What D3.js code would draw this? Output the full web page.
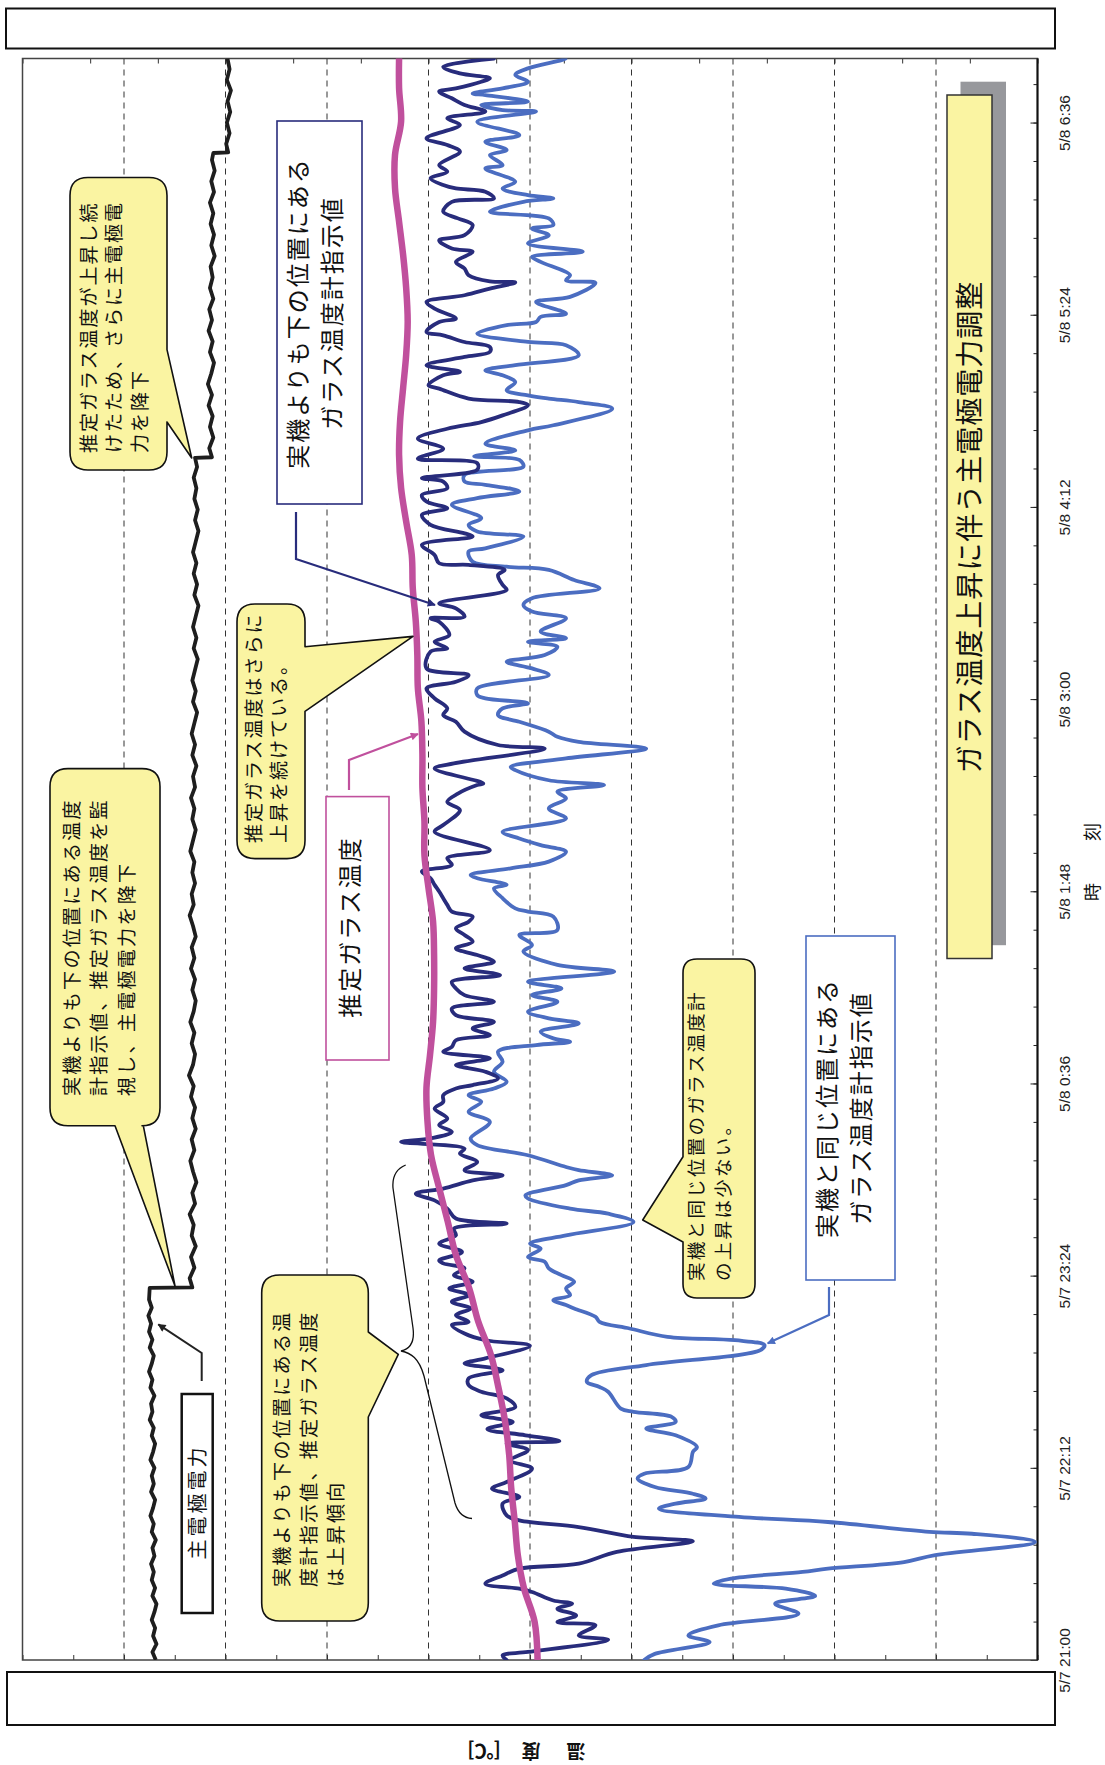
<!DOCTYPE html>
<html>
<head>
<meta charset="utf-8">
<script src="https://cdn.jsdelivr.net/npm/d3@7"></script>
<style>
body { margin: 0; background: #fff; }
svg { display: block; font-family: "Noto Sans CJK JP", sans-serif; }
</style>
</head>
<body>
<div class="chart-container"></div>
<script>
// ---- data (time = minutes after 5/7 21:00) ----
const tickLabels = ['5/7 21:00','5/7 22:12','5/7 23:24','5/8 0:36','5/8 1:48','5/8 3:00','5/8 4:12','5/8 5:24','5/8 6:36'];
const majorMinutes = [0, 72, 144, 216, 288, 360, 432, 504, 576];
const seriesNames = ['主電極電力', '推定ガラス温度', '実機よりも下の位置にあるガラス温度計指示値', '実機と同じ位置にあるガラス温度計指示値'];

// 主電極電力 (top axis, relative units)
const powerPts = [[0,130.3],[3,130.8],[6,130.2],[9,130.7],[12,130.4],[15,130.9],[18,130.5],[21,130.2],[24,130.8],[27,130.4],[30,130.9],[33,130.6],[36,131.0],[39,130.5],[42,130.8],[45,130.3],[48,130.9],[51,130.6],[54,131.1],[57,130.7],[60,130.4],[63,131.0],[66,130.6],[69,130.9],[72,130.5],[75,131.1],[78,130.7],[81,130.4],[84,130.9],[87,130.6],[90,131.2],[93,130.8],[96,131.0],[99,130.5],[102,131.1],[105,130.8],[108,131.3],[111,130.9],[114,130.6],[117,131.2],[120,130.8],[123,131.3],[126,131.0],[129,131.4],[132,130.9],[135,131.3],[139.4,131.2],
  [139.6,124.9],[143,125.3],[147,124.6],[151,125.1],[155,124.4],[159,125.0],[163,124.7],[167,125.3],[171,124.5],[175,124.9],[179,124.3],[183,124.8],[187,125.2],[191,124.6],[195,125.0],[199,124.4],[203,124.9],[207,124.5],[211,125.1],[215,124.7],[219,125.4],[223,124.8],[227,124.5],[231,125.0],[235,124.6],[239,125.2],[243,124.7],[247,124.4],[251,124.9],[255,124.5],[259,125.1],[263,124.6],[267,125.0],[271,124.4],[275,124.8],[279,125.3],[283,124.7],[287,125.0],[291,124.5],[295,124.9],[299,124.6],[303,125.2],[307,124.8],[311,124.4],[315,124.9],[319,124.6],[323,125.1],[327,124.5],[331,124.8],[335,124.3],[339,124.9],[343,124.5],[347,125.0],[351,124.6],[355,124.2],[359,124.8],[363,124.4],[367,124.9],[371,124.5],[375,124.1],[379,124.7],[383,124.3],[387,124.8],[391,124.4],[395,124.0],[399,124.6],[403,124.2],[407,124.7],[411,124.3],[415,124.8],[419,124.4],[423,124.0],[427,124.5],[431,124.1],[435,124.6],[439,124.3],[443,124.7],[447,124.2],[450.4,124.5],
  [450.6,122.0],[454,122.4],[458,121.8],[462,122.3],[466,121.9],[470,122.5],[474,122.0],[478,122.6],[482,122.1],[486,121.7],[490,122.3],[494,121.9],[498,122.5],[502,122.0],[506,122.4],[510,121.8],[514,122.3],[518,121.9],[522,122.2],[526,121.6],[530,122.1],[534,121.7],[538,122.2],[542,121.8],[546,122.3],[550,121.7],[554,122.1],[558,121.6],[562,122.0],[564.6,121.8],
  [564.8,119.6],[568,119.9],[572,119.4],[576,119.8],[580,119.3],[584,119.7],[588,119.2],[592,119.8],[596,119.4],[600,119.7]];

// 推定ガラス温度 (bottom axis, relative units)
const estPts = [[0,98.5],[14.4,99.1],[27.0,101.2],[39.3,102.4],[51.8,103.0],[64.4,103.7],[76.8,104.1],[89.3,104.9],[101.9,106.2],[114.3,107.7],[126.8,110.2],[139.4,112.0],[151.7,114.6],[164.2,116.2],[176.8,117.9],[189.2,119.5],[201.7,120.2],[214.3,120.4],[226.7,119.7],[239.1,119.1],[251.8,118.9],[264.1,118.9],[276.6,119.1],[289.2,120.0],[301.6,120.8],[314.1,120.8],[326.7,121.2],[339.1,121.2],[351.6,121.4],[364.2,122.1],[376.5,122.2],[389.0,122.5],[401.6,123.1],[414.0,123.3],[426.5,124.4],[439.1,125.4],[451.5,125.8],[464.0,125.6],[476.6,125.0],[489.0,124.4],[501.4,124.1],[514.0,124.4],[526.4,125.0],[538.9,125.8],[551.5,126.6],[563.9,126.6],[576.4,125.4],[589.0,125.8],[600,125.8]];

// 実機よりも下の位置にあるガラス温度計指示値
const lowerPts = [[0,104.6],[1.7,105.4],[3.0,100.4],[7.6,84.6],[9.2,90.4],[13.0,87.1],[14.2,94.6],[16.7,90.9],[19.2,94.6],[21.1,91.7],[22.3,95.4],[25.5,99.6],[26.7,102.1],[28.6,108.8],[31.7,105.4],[34.2,102.1],[36.1,90.4],[40.5,82.9],[44.5,67.9],[46.1,79.6],[49.8,90.4],[52.3,102.1],[54.2,104.6],[58.6,105.4],[61.1,102.1],[64.2,107.5],[66.7,104.6],[71.7,99.6],[74.8,103.8],[78.6,100.4],[81.1,104.6],[82.0,94.2],[84.2,100.9],[86.5,108.4],[89.2,103.4],[91.7,109.6],[94.8,102.9],[98.0,104.6],[100.5,109.6],[103.0,112.1],[105.5,112.1],[108.6,105.4],[111.1,112.9],[113.0,108.8],[117.7,100.0],[119.8,108.8],[122.3,112.9],[125.5,115.4],[126.7,112.1],[129.2,114.6],[131.7,111.7],[134.2,115.4],[136.7,112.1],[139.2,115.9],[141.7,111.3],[144.2,115.0],[146.7,112.9],[148.6,117.1],
  [149.7,117.9],[152.9,113.4],[156.0,117.9],[159.1,114.6],[161.6,115.0],[163.5,104.6],[165.4,114.6],[169.1,116.3],[172.2,118.8],[174.7,122.5],[176.6,117.1],[179.7,111.3],[181.6,105.4],[183.5,112.9],[186.6,110.4],[189.7,113.8],[191.6,112.9],[194.1,125.4],[195.4,119.6],[197.9,115.4],[200.4,117.9],[202.9,116.3],[206.6,118.8],[209.1,117.1],[211.6,117.1],[214.1,114.6],[215.4,111.3],[217.9,106.3],[220.4,108.8],[222.9,114.6],[225.4,107.9],[227.9,117.1],[229.7,115.4],[232.2,114.6],[234.1,107.9],[236.6,111.3],[239.1,107.1],[241.6,114.6],[244.1,115.4],[246.6,107.1],[249.1,112.9],[251.6,114.6],[254.1,115.4],[256.6,105.9],[259.1,112.9],[261.6,107.1],[264.1,110.4],[266.6,114.6],[269.1,111.3],[271.6,112.9],[274.1,114.6],[276.6,112.1],[278.5,111.3],[280.4,115.4],[282.9,116.3],[285.4,117.1],[287.9,117.9],[290.4,118.8],[292.9,119.6],[295.4,121.3],[297.9,115.4],
  [300.4,116.3],[303.4,107.9],[310.3,118.8],[312.8,117.1],[318.4,113.8],[321.5,116.3],[324.6,114.2],[327.8,110.4],[328.4,109.2],[334.0,118.8],[335.9,115.0],[341.5,97.1],[342.8,106.3],[347.8,112.9],[351.5,114.6],[354.0,117.1],[356.5,116.3],[360.3,118.8],[364.0,120.4],[366.5,114.6],[369.0,112.1],[371.5,120.4],[377.8,119.6],[379.0,116.3],[381.5,118.8],[384.0,115.9],[389.0,117.9],[390.3,119.6],[390.9,112.9],[394.0,114.6],[395.9,117.9],[400.9,104.6],[402.8,105.4],[406.5,106.3],[408.4,105.0],[410.3,112.1],[410.9,117.9],[414.0,118.8],[417.8,121.3],[420.9,111.3],[422.1,112.9],[425.3,119.6],[429.0,121.3],[431.5,116.3],[434.0,120.4],[436.5,121.3],[439.0,116.3],[441.5,117.1],[442.8,121.3],[445.9,110.4],[448.4,110.4],
  [450.1,122.1],[453.8,117.1],[457.6,122.1],[461.3,116.3],[463.8,109.6],[466.3,105.4],[470.1,100.4],[471.3,102.1],[472.6,112.1],[476.3,117.9],[477.6,120.0],[481.3,117.1],[482.6,113.8],[485.1,120.4],[488.2,112.9],[490.1,107.9],[491.9,107.9],[493.8,112.9],[496.3,117.1],[497.6,120.4],[501.3,117.9],[502.6,114.6],[506.3,118.8],[508.8,120.4],[511.3,112.9],[513.8,107.9],[516.1,102.9],[516.5,107.9],[518.8,112.1],[521.3,112.9],[523.8,114.6],[527.6,111.3],[528.8,115.4],[531.9,117.9],[533.8,112.9],[537.6,111.3],[540.1,114.2],[542.6,117.1],[546.3,115.4],[547.6,107.1],[550.1,108.8],[551.3,114.6],[552.6,117.1],[555.1,119.6],[557.6,116.3],[560.1,117.9],[565.1,113.8],[567.6,116.3],[570.1,120.4],[575.1,113.8],[577.6,116.3],[580.1,108.8],[582.6,112.9],[585.1,115.4],[587.6,117.9],[588.8,114.6],[591.3,109.6],[592.6,107.9],[594.4,113.8],[596.9,117.1],[600,107.1]];

// 実機と同じ位置にあるガラス温度計指示値
const samePts = [[0,77.5],[2.3,75.4],[6.7,64.6],[9.2,68.8],[13.0,62.9],[17.3,47.1],[21.1,51.7],[24.0,43.8],[26.7,49.6],[28.6,63.8],[30.5,60.4],[33.0,46.3],[34.2,41.3],[36.7,26.3],[39.2,20.4],[44.2,0.5],[47.3,12.9],[48.0,21.3],[51.7,41.3],[53.6,58.8],[56.7,74.6],[58.6,71.3],[60.5,65.4],[62.3,67.9],[64.8,75.4],[68.0,78.8],[69.8,77.5],[72.3,68.8],[78.0,67.9],[79.8,67.1],[84.2,71.3],[86.7,77.1],[89.2,71.3],[91.1,72.1],[93.0,79.6],[94.2,82.1],[100.5,84.6],[102.3,86.3],[104.2,88.8],[106.7,87.9],[110.5,77.1],[116.1,54.6],[118.0,53.8],[119.8,59.6],[121.1,72.9],[124.2,80.4],[126.7,86.3],[128.6,87.1],[131.7,91.3],[133.0,92.9],[134.8,95.4],[136.7,92.1],[139.2,92.9],[141.7,91.3],[144.2,93.8],[146.7,96.3],[149.2,97.1],
  [151.0,100.4],[154.1,97.9],[156.0,100.0],[159.1,92.9],[164.1,79.6],[167.2,84.6],[169.1,92.1],[172.9,100.4],[174.1,100.9],[177.9,92.9],[179.7,90.4],[181.6,83.8],[183.5,90.4],[184.7,92.9],[189.1,100.4],[192.9,110.4],[195.4,111.7],[201.6,107.9],[205.4,112.1],[209.1,109.6],[211.6,112.1],[214.1,107.1],[216.6,104.6],[220.4,107.1],[224.1,105.4],[227.9,106.3],[230.4,98.8],[231.6,92.1],[232.9,95.4],[235.4,97.9],[238.5,90.4],[240.4,96.3],[242.9,100.4],[246.6,94.6],[249.1,99.6],[251.6,93.8],[254.1,100.4],[257.9,83.4],[260.4,94.6],[265.4,101.3],[267.9,99.6],[271.6,102.1],[273.5,94.6],[278.5,95.4],[280.4,100.4],[281.6,102.9],[285.4,105.4],[289.1,107.1],[290.4,104.6],[292.9,110.4],[294.1,111.7],[296.6,103.8],[299.1,96.3],
  [302.8,92.9],[305.3,97.9],[307.8,102.1],[310.3,105.4],[315.3,92.9],[319.0,96.3],[322.8,92.9],[325.3,94.6],[327.8,85.4],[329.6,96.3],[333.4,102.9],[334.6,103.8],[337.8,92.9],[341.5,77.1],[344.0,90.4],[345.9,94.6],[347.8,96.3],[351.5,102.1],[354.0,106.3],[356.5,105.4],[358.4,100.4],[360.3,108.8],[361.5,110.4],[364.0,110.4],[369.0,96.3],[371.5,99.6],[374.0,104.6],[376.5,97.1],[379.6,94.6],[381.5,100.4],[382.8,92.9],[385.3,97.9],[390.3,92.9],[392.8,99.6],[395.3,101.3],[397.8,99.6],[401.5,86.3],[404.6,91.3],[408.4,96.3],[409.6,104.6],[411.5,111.3],[415.3,112.1],[416.5,108.8],[420.9,101.3],[422.8,110.4],[425.3,112.1],[427.8,109.6],[432.8,115.4],[435.3,110.4],[437.8,102.1],[440.3,108.8],[441.5,112.9],[444.0,112.9],[447.1,101.3],[449.6,102.1],
  [451.0,111.0],[453.2,102.9],[455.7,108.8],[460.7,100.4],[462.6,95.4],[468.8,83.8],[471.3,90.4],[472.6,96.3],[473.8,100.4],[475.7,104.6],[478.8,102.9],[481.3,105.4],[483.2,108.8],[485.1,102.9],[488.8,90.4],[492.6,92.9],[493.8,100.4],[496.9,110.4],[500.1,104.6],[501.3,98.8],[503.2,97.9],[504.4,92.9],[508.8,98.8],[510.7,92.1],[515.9,87.1],[516.9,92.9],[518.8,92.1],[523.8,97.9],[525.7,99.6],[527.6,89.6],[530.7,100.4],[533.8,96.3],[536.3,99.6],[537.6,95.4],[540.1,96.3],[542.6,107.9],[546.3,101.3],[547.6,95.4],[548.8,100.4],[551.3,105.4],[553.8,102.9],[558.8,108.8],[560.1,105.4],[563.8,107.9],[565.7,104.6],[568.8,108.8],[571.3,102.1],[576.3,110.4],[580.1,98.8],[580.7,105.4],[582.6,109.6],[583.8,100.4],[586.3,108.8],[586.9,111.3],[588.8,105.4],[591.3,100.4],[593.8,102.9],[596.3,100.4],[599.4,93.8],[600,93.0]];

// ---- layout ----
const W = 1105, H = 1765;
const plot = {left: 22.5, right: 1037.5, top: 58.5, bottom: 1660};
const colors = {power: '#1e1e1e', est: '#c0509d', lower: '#282c7c', same: '#4b6dc1', callout: '#faf4a2'};

const svg = d3.select('.chart-container')
    .append('svg')
    .attr('width', W)
    .attr('height', H);

const start = new Date(2000, 4, 7, 21, 0);
const toDate = m => new Date(+start + m * 60000);

const yTime = d3.scaleTime()
    .domain([start, toDate(600)])
    .range([plot.bottom, plot.top]);
const xTemp = d3.scaleLinear()
    .domain([0, 200])
    .range([plot.right, plot.left]);
const xPower = d3.scaleLinear()
    .domain([0, 150])
    .range([plot.right, plot.left]);

// arrow markers
const defs = svg.append('defs');
[['arrNavy', colors.lower], ['arrMag', colors.est], ['arrBlue', colors.same], ['arrBlack', '#222']].forEach(([id, c]) => {
    defs.append('marker')
        .attr('id', id)
        .attr('viewBox', '0 0 10 10')
        .attr('refX', 9).attr('refY', 5)
        .attr('markerWidth', 11).attr('markerHeight', 8)
        .attr('markerUnits', 'userSpaceOnUse')
        .attr('orient', 'auto')
        .append('path')
        .attr('d', 'M0,0 L10,5 L0,10 Z')
        .attr('fill', c);
});
defs.append('clipPath').attr('id', 'plotClip')
    .append('rect')
    .attr('x', plot.left).attr('y', plot.top)
    .attr('width', plot.right - plot.left).attr('height', plot.bottom - plot.top);

// redacted label boxes
svg.append('rect').attr('x', 6).attr('y', 8.5).attr('width', 1049).attr('height', 40)
    .attr('fill', '#fff').attr('stroke', '#111').attr('stroke-width', 2);
svg.append('rect').attr('x', 7).attr('y', 1672).attr('width', 1048).attr('height', 53)
    .attr('fill', '#fff').attr('stroke', '#111').attr('stroke-width', 2);

// grid
svg.append('g')
    .selectAll('line')
    .data(d3.range(20, 200, 20))
    .enter()
    .append('line')
    .attr('x1', d => xTemp(d)).attr('x2', d => xTemp(d))
    .attr('y1', plot.top).attr('y2', plot.bottom)
    .attr('stroke', '#333').attr('stroke-width', 1)
    .attr('stroke-dasharray', '6,5');

// axes (tick labels of the value axes are hidden in the source)
svg.append('g')
    .attr('transform', `translate(0,${plot.top})`)
    .call(d3.axisTop(xPower).tickValues(d3.range(0, 151, 10)).tickSize(-5).tickFormat(''))
    .call(g => g.select('.domain').remove())
    .call(g => g.selectAll('.tick line').attr('stroke', '#333'));
svg.append('g')
    .attr('transform', `translate(0,${plot.bottom})`)
    .call(d3.axisBottom(xTemp).tickValues(d3.range(0, 201, 10)).tickSize(-5).tickFormat(''))
    .call(g => g.select('.domain').remove())
    .call(g => g.selectAll('.tick line').attr('stroke', '#333'));
svg.append('g')
    .attr('transform', `translate(${plot.right},0)`)
    .call(d3.axisRight(yTime).tickValues(d3.range(0, 600, 14.4).map(toDate)).tickSize(-4).tickFormat(''))
    .call(g => g.select('.domain').remove())
    .call(g => g.selectAll('.tick line').attr('stroke', '#222'));
svg.append('g')
    .attr('transform', `translate(${plot.right},0)`)
    .call(d3.axisRight(yTime).tickValues(majorMinutes.map(toDate)).tickSize(-7).tickFormat((d, i) => tickLabels[i]))
    .call(g => g.select('.domain').remove())
    .call(g => g.selectAll('.tick line').attr('stroke', '#222'))
    .call(g => g.selectAll('.tick text')
        .attr('x', 0).attr('dy', null)
        .attr('transform', 'translate(32,0) rotate(-90)')
        .attr('text-anchor', 'middle')
        .attr('fill', '#222')
        .attr('font-size', 15.5)
        .attr('font-family', '"Liberation Sans Narrow", "Liberation Sans", sans-serif'));

// frame
svg.append('rect')
    .attr('x', plot.left).attr('y', plot.top)
    .attr('width', plot.right - plot.left).attr('height', plot.bottom - plot.top)
    .attr('fill', 'none').attr('stroke', '#444').attr('stroke-width', 1.5);
svg.append('line')
    .attr('x1', plot.right).attr('x2', plot.right)
    .attr('y1', plot.top).attr('y2', plot.bottom)
    .attr('stroke', '#111').attr('stroke-width', 2);

// series
const tempLine = d3.line()
    .curve(d3.curveCatmullRom.alpha(0.5))
    .x(d => xTemp(d[1]))
    .y(d => yTime(toDate(d[0])));
const powerLine = d3.line()
    .x(d => xPower(d[1]))
    .y(d => yTime(toDate(d[0])));

const lines = svg.append('g').attr('clip-path', 'url(#plotClip)');
[[samePts, colors.same, 3.8], [lowerPts, colors.lower, 3.8], [estPts, colors.est, 6.5]].forEach(([pts, c, w]) => {
    lines.append('path')
        .datum(pts)
        .attr('d', tempLine)
        .attr('fill', 'none')
        .attr('stroke', c)
        .attr('stroke-width', w)
        .attr('stroke-linejoin', 'round')
        .attr('stroke-linecap', 'round');
});
lines.append('path')
    .datum(powerPts)
    .attr('d', powerLine)
    .attr('fill', 'none')
    .attr('stroke', colors.power)
    .attr('stroke-width', 3.8)
    .attr('stroke-linejoin', 'round');

// ---- annotations ----
const ann = svg.append('g');

function calloutPath(x0, y0, x1, y1, r, t) {
    let p = `M${x0 + r},${y0} H${x1 - r} Q${x1},${y0} ${x1},${y0 + r} `;
    if (t.side === 'right') p += `V${t.a} L${t.tip[0]},${t.tip[1]} L${x1},${t.b} `;
    p += `V${y1 - r} Q${x1},${y1} ${x1 - r},${y1} `;
    if (t.side === 'bottom') p += `H${t.b} L${t.tip[0]},${t.tip[1]} L${t.a},${y1} `;
    p += `H${x0 + r} Q${x0},${y1} ${x0},${y1 - r} `;
    if (t.side === 'left') p += `V${t.b} L${t.tip[0]},${t.tip[1]} L${x0},${t.a} `;
    p += `V${y0 + r} Q${x0},${y0} ${x0 + r},${y0} Z`;
    return p;
}

function callout(box, tail, r) {
    ann.append('path')
        .attr('d', calloutPath(box[0], box[1], box[2], box[3], r, tail))
        .attr('fill', colors.callout)
        .attr('stroke', '#111')
        .attr('stroke-width', 1.6)
        .attr('stroke-linejoin', 'round');
}

// vertical (rotated) text block: x = baseline of first line, y = start point
function vtext(x, y, lines, o) {
    const g = ann.append('g').attr('transform', `translate(${x},${y}) rotate(-90)`);
    lines.forEach((s, i) => {
        g.append('text')
            .attr('x', 0)
            .attr('y', i * o.gap)
            .attr('text-anchor', o.anchor || 'start')
            .attr('font-size', o.size)
            .attr('letter-spacing', o.ls || 0)
            .attr('fill', '#111')
            .text(s);
    });
}

function box(x, y, w, h, stroke, sw) {
    ann.append('rect')
        .attr('x', x).attr('y', y).attr('width', w).attr('height', h)
        .attr('fill', '#fff').attr('stroke', stroke).attr('stroke-width', sw);
}

function connector(pts, color, w, marker) {
    ann.append('path')
        .attr('d', d3.line()(pts))
        .attr('fill', 'none')
        .attr('stroke', color)
        .attr('stroke-width', w)
        .attr('marker-end', `url(#${marker})`);
}

// callout A
callout([70, 177.5, 167, 470], {side: 'right', a: 349.6, tip: [191.7, 458], b: 422}, 18);
vtext(95.5, 453, ['推定ガラス温度が上昇し続', 'けたため、さらに主電極電', '力を降下'], {gap: 25.5, size: 19, ls: 2});

// callout B
callout([237, 604, 305, 858.6], {side: 'right', a: 646.7, tip: [413, 636.4], b: 711.3}, 18);
vtext(260.5, 843, ['推定ガラス温度はさらに', '上昇を続けている。'], {gap: 25, size: 19, ls: 2});

// callout C
callout([50, 768.6, 160, 1125.7], {side: 'bottom', a: 115, tip: [175, 1286], b: 143.3}, 18);
vtext(78.5, 1096, ['実機よりも下の位置にある温度', '計指示値、推定ガラス温度を監', '視し、主電極電力を降下'], {gap: 27.5, size: 19, ls: 2.3});

// callout D
callout([261.7, 1275, 368.3, 1621], {side: 'right', a: 1332, tip: [398.3, 1354.3], b: 1417}, 18);
vtext(288.5, 1587, ['実機よりも下の位置にある温', '度計指示値、推定ガラス温度', 'は上昇傾向'], {gap: 27, size: 19, ls: 2.3});

// callout E
callout([683, 959, 755, 1298], {side: 'left', a: 1156.7, tip: [642.7, 1220], b: 1242}, 14);
vtext(703, 1281, ['実機と同じ位置のガラス温度計', 'の上昇は少ない。'], {gap: 27, size: 18.5, ls: 2.3});

// brace
ann.append('path')
    .attr('d', 'M405.7,1165 C396,1169 392,1176 393,1188 L413,1328 C415,1343 410,1349 401,1351 C411,1353 419,1358 424,1376 L455,1503 C458,1513 464,1518 472,1518.5')
    .attr('fill', 'none').attr('stroke', '#111').attr('stroke-width', 1.3);

// label boxes
box(277, 121, 85, 383, colors.lower, 1.6);
vtext(307, 313, ['実機よりも下の位置にある', 'ガラス温度計指示値'], {gap: 34, size: 24, ls: 2, anchor: 'middle'});
connector([[296, 512], [296, 559], [435, 605]], colors.lower, 2.2, 'arrNavy');

box(326, 796.6, 63, 263.4, colors.est, 1.6);
vtext(359, 927, ['推定ガラス温度'], {gap: 0, size: 24, ls: 2, anchor: 'middle'});
connector([[349, 790], [349, 760], [418, 734]], colors.est, 2.2, 'arrMag');

box(806, 936, 89, 344, colors.same, 1.6);
vtext(836, 1108, ['実機と同じ位置にある', 'ガラス温度計指示値'], {gap: 34, size: 24, ls: 2, anchor: 'middle'});
connector([[829, 1287], [829, 1315], [767.7, 1343.3]], colors.same, 2.2, 'arrBlue');

box(181.7, 1394, 31, 219, '#111', 2.5);
vtext(205, 1502, ['主電極電力'], {gap: 0, size: 20, ls: 3, anchor: 'middle'});
connector([[201.7, 1381], [201.7, 1353], [158.3, 1324.4]], '#222', 2, 'arrBlack');

// title band
ann.append('rect').attr('x', 960.5).attr('y', 81.7).attr('width', 45.5).attr('height', 863.5).attr('fill', '#97989c');
ann.append('rect').attr('x', 947).attr('y', 95).attr('width', 45).attr('height', 863.5)
    .attr('fill', colors.callout).attr('stroke', '#333').attr('stroke-width', 1.5);
vtext(980, 527, ['ガラス温度上昇に伴う主電極電力調整'], {gap: 0, size: 28, ls: 1, anchor: 'middle'});

// axis titles
vtext(1099, 892, ['時'], {gap: 0, size: 18, anchor: 'middle'});
vtext(1099, 832, ['刻'], {gap: 0, size: 18, anchor: 'middle'});
[['温', 576], ['度', 531], ['[℃]', 484]].forEach(([s, x]) => {
    ann.append('text')
        .attr('transform', `translate(${x},1744) rotate(180)`)
        .attr('text-anchor', 'middle')
        .attr('font-size', 19)
        .attr('font-weight', 'bold')
        .attr('fill', '#111')
        .text(s);
});
</script>
</body>
</html>
